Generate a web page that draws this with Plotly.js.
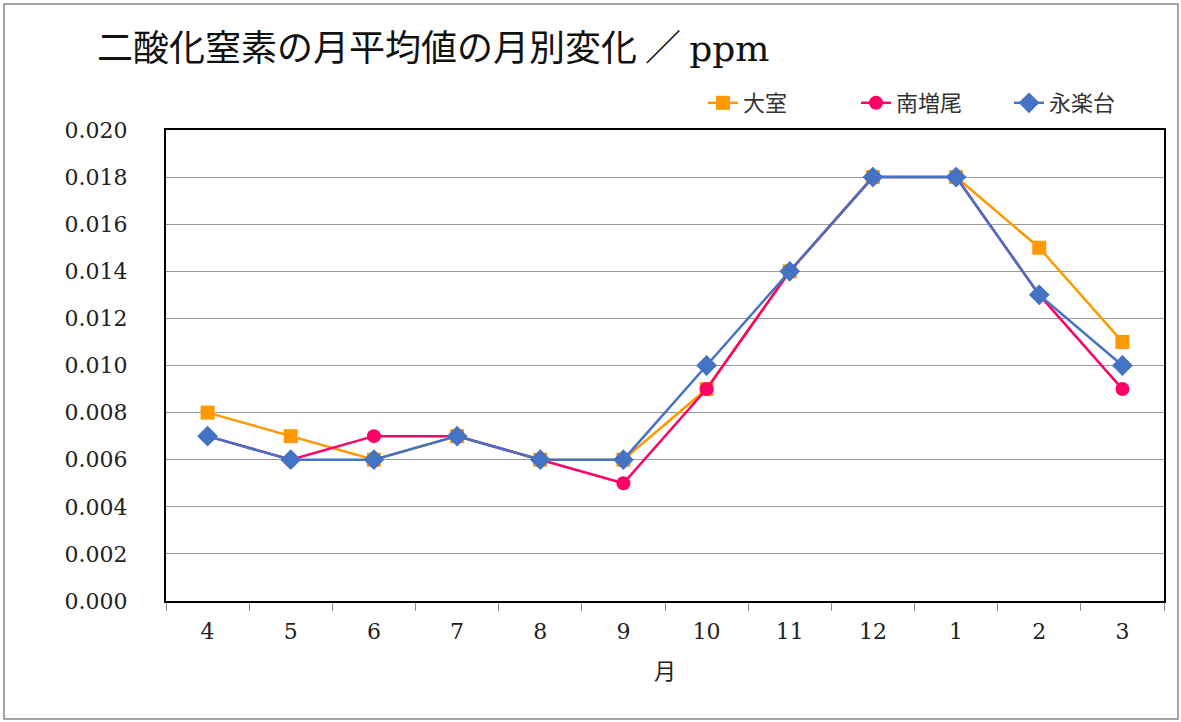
<!DOCTYPE html>
<html><head><meta charset="utf-8">
<script src="https://cdn.plot.ly/plotly-3.0.1.min.js"></script>
<style>html,body{margin:0;padding:0;background:#fff}#c{width:1181px;height:722px}</style>
</head><body><div id="c"></div>
<script>
const months = ['4','5','6','7','8','9','10','11','12','1','2','3'];
const seriesNames = ['大室','南増尾','永楽台'];
const omuro = [0.008,0.007,0.006,0.007,0.006,0.006,0.009,0.014,0.018,0.018,0.015,0.011];
const minamimasuo = [0.007,0.006,0.007,0.007,0.006,0.005,0.009,0.014,0.018,0.018,0.013,0.009];
const eirakudai = [0.007,0.006,0.006,0.007,0.006,0.006,0.010,0.014,0.018,0.018,0.013,0.010];
const yTicks = [0,0.002,0.004,0.006,0.008,0.010,0.012,0.014,0.016,0.018,0.020];

const serif = '"DejaVu Serif","Liberation Serif","Noto Sans CJK JP",serif';
const mk = (y,name,color,symbol,size)=>({
  x: months, y: y, name: name, type:'scatter', mode:'lines+markers',
  line:{color:color,width:2.5}, marker:{color:color,symbol:symbol,size:size}, cliponaxis:false
});
const data = [
  mk(omuro,seriesNames[0],'#FF9900','square',14),
  mk(minamimasuo,seriesNames[1],'#FF0066','circle',14),
  mk(eirakudai,seriesNames[2],'#4472C4','diamond',16)
];
const layout = {
  width:1181, height:722,
  margin:{l:166,r:17,t:130,b:121},
  paper_bgcolor:'#fff', plot_bgcolor:'#fff',
  title:{text:'二酸化窒素の月平均値の月別変化 ／ <span style="font-family:DejaVu Serif">ppm</span>', x:97/1181, xanchor:'left', y:1-48/722, yanchor:'middle',
    font:{family:'"Noto Sans CJK JP",serif', size:36, color:'#111'}},
  showlegend:true,
  legend:{orientation:'h', x:(1162-166)/998, xanchor:'right', y:(601-103)/471, yanchor:'middle',
    bgcolor:'rgba(0,0,0,0)',
    font:{family:'"Noto Sans CJK JP",serif', size:22, color:'#333'}, traceorder:'normal', itemwidth:30,
    entrywidth:108},
  xaxis:{type:'category', categoryorder:'array', categoryarray:months, range:[-0.5,11.5], autorange:false,
    showline:true, linecolor:'#000', linewidth:2, mirror:true,
    ticks:'outside', tickson:'boundaries', ticklen:8, tickcolor:'#888', tickwidth:1,
    showgrid:false, tickfont:{family:serif,size:22,color:'#222'}, ticklabelstandoff:10,
    title:{text:'月', font:{family:'"Noto Sans CJK JP",serif',size:22,color:'#222'}, standoff:20}},
  yaxis:{range:[0,0.020], autorange:false, tickvals:yTicks, tickformat:'.3f',
    showline:true, linecolor:'#000', linewidth:2, mirror:true,
    showgrid:true, gridcolor:'#999', gridwidth:1, zeroline:false,
    ticks:'', tickfont:{family:serif,size:22,color:'#222'}, ticklabelstandoff:32},
  shapes:[{type:'rect', xref:'paper', yref:'paper',
    x0:(4-166)/998, x1:(1178-166)/998, y0:(601-719)/471, y1:(601-4)/471,
    line:{color:'#888',width:1.5}, fillcolor:'rgba(0,0,0,0)', layer:'below'}]
};
Plotly.newPlot('c', data, layout, {displayModeBar:false, staticPlot:true});
</script></body></html>
